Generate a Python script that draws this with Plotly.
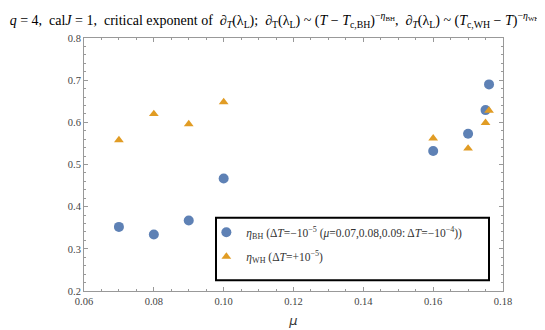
import plotly.graph_objects as go

mu_bh = [0.07, 0.08, 0.09, 0.10, 0.16, 0.17, 0.175, 0.176]
eta_bh = [0.352, 0.334, 0.367, 0.467, 0.532, 0.573, 0.629, 0.690]
mu_wh = [0.07, 0.08, 0.09, 0.10, 0.16, 0.17, 0.175, 0.176]
eta_wh = [0.558, 0.620, 0.596, 0.648, 0.562, 0.538, 0.599, 0.628]

name_bh = "<i>η</i><sub>BH</sub> (Δ<i>T</i>=−10<sup>−5</sup> (<i>μ</i>=0.07,0.08,0.09: Δ<i>T</i>=−10<sup>−4</sup>))"
name_wh = "<i>η</i><sub>WH</sub> (Δ<i>T</i>=+10<sup>−5</sup>)"
title = ("<i>q</i> = 4,  cal<i>J</i> = 1,  critical exponent of  ∂<sub><i>T</i></sub>(λ<sub>L</sub>);  "
         "∂<sub>T</sub>(λ<sub>L</sub>) ~ (<i>T</i> − <i>T</i><sub>c,BH</sub>)<sup>−<i>η</i><sub>BH</sub></sup>,  "
         "∂<sub><i>T</i></sub>(λ<sub>L</sub>) ~ (<i>T</i><sub>c,WH</sub> − <i>T</i>)<sup>−<i>η</i><sub>WH</sub></sup>")

serif = "Liberation Serif, Times New Roman, serif"
fig = go.Figure()
fig.add_trace(go.Scatter(x=mu_bh, y=eta_bh, mode="markers", name=name_bh,
                         marker=dict(symbol="circle", size=10, color="#5E81B5"),
                         legend="legend"))
fig.add_trace(go.Scatter(x=mu_wh, y=eta_wh, mode="markers", name=name_wh,
                         marker=dict(symbol="triangle-up", size=8.5, color="#E19C24"),
                         legend="legend2"))

axcommon = dict(showline=True, linecolor="#999999", linewidth=1, mirror="ticks",
                ticks="inside", ticklen=4, tickcolor="#999999", showgrid=False, zeroline=False,
                tickfont=dict(family=serif, size=10.5, color="#444444"))
fig.update_layout(
    width=545, height=330,
    margin=dict(l=76, r=50, t=30, b=41),
    paper_bgcolor="white", plot_bgcolor="white",
    title=dict(text=title, x=0.003, xanchor="left", y=0.963, yanchor="middle",
               font=dict(family=serif, size=14, color="black")),
    xaxis=dict(range=[0.06, 0.18], dtick=0.02, tick0=0.06, tickformat=".2f",
               minor=dict(dtick=0.005, ticks="inside", ticklen=2, tickcolor="#999999"),
               title=dict(text="<i>μ</i>", font=dict(family="DejaVu Sans", size=13, color="#333333"), standoff=10),
               **axcommon),
    yaxis=dict(range=[0.2, 0.8], dtick=0.1, tick0=0.2, tickformat=".1f",
               minor=dict(dtick=0.02, ticks="inside", ticklen=2, tickcolor="#999999"),
               **axcommon),
    legend=dict(x=0.292, y=0.232, xanchor="left", yanchor="middle", bgcolor="rgba(0,0,0,0)",
                font=dict(family=serif, size=11.5, color="#333333"), borderwidth=0),
    legend2=dict(x=0.292, y=0.136, xanchor="left", yanchor="middle", bgcolor="rgba(0,0,0,0)",
                 font=dict(family=serif, size=11.5, color="#333333"), borderwidth=0),
    showlegend=True,
    shapes=[dict(type="rect", xref="paper", yref="paper",
                 x0=(208 - 76) / 419, x1=(481 - 76) / 419,
                 y0=(289 - 278) / 259, y1=(289 - 214) / 259,
                 line=dict(color="black", width=2), fillcolor="white", layer="below")],
)
fig.write_html("out.html")
